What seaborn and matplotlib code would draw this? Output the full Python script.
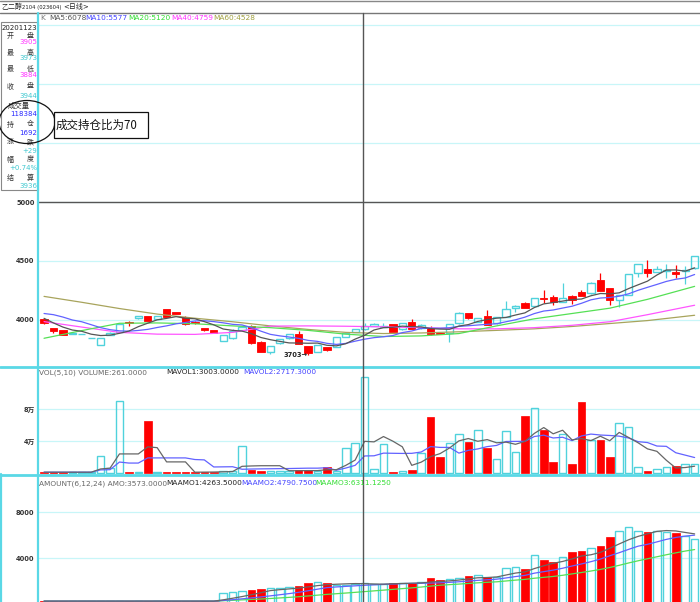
import numpy as np
import pandas as pd
import matplotlib
matplotlib.use("Agg")
import matplotlib.pyplot as plt
import seaborn as sns
from matplotlib.patches import Ellipse, Rectangle

# daily bars (one per trading day, left to right)
opens = [4006, 3932, 3915, 3880, 3880, 3848, 3790, 3873, 3900, 3982,
         4014, 4036, 4008, 4090, 4068, 4028, 3986, 3929, 3912, 3825,
         3845, 3915, 3952, 3816, 3727, 3802, 3845, 3878, 3780, 3727,
         3768, 3774, 3860, 3901, 3921, 3949, 3940, 3963, 3921, 3986,
         3929, 3929, 3887, 3887, 3972, 4056, 3986, 4034, 3972, 4028,
         4105, 4147, 4119, 4184, 4195, 4156, 4206, 4235, 4226, 4339,
         4268, 4169, 4212, 4396, 4430, 4410, 4418, 4410, 4416, 4438]
closes = [3972, 3905, 3875, 3888, 3881, 3849, 3847, 3892, 3966, 3976,
          4036, 3994, 4034, 4028, 4050, 3965, 3975, 3912, 3893, 3873,
          3907, 3944, 3802, 3732, 3780, 3836, 3878, 3797, 3723, 3788,
          3742, 3853, 3887, 3921, 3949, 3966, 3952, 3901, 3972, 3924,
          3958, 3880, 3880, 3963, 4062, 4020, 4014, 3958, 4023, 4093,
          4122, 4105, 4184, 4178, 4150, 4184, 4170, 4206, 4316, 4246,
          4170, 4212, 4387, 4475, 4402, 4430, 4424, 4390, 4424, 4542]
highs = [4010, 3935, 3918, 3890, 3882, 3850, 3850, 3895, 3970, 3992,
         4038, 4038, 4036, 4092, 4070, 4030, 3990, 3932, 3915, 3876,
         3925, 3948, 3960, 3820, 3783, 3840, 3882, 3905, 3783, 3792,
         3772, 3856, 3895, 3925, 3977, 3975, 3972, 3968, 3975, 4010,
         3962, 3950, 3890, 3966, 4066, 4060, 4018, 4085, 4026, 4161,
         4125, 4150, 4188, 4254, 4215, 4311, 4209, 4250, 4320, 4396,
         4271, 4215, 4390, 4478, 4508, 4460, 4478, 4465, 4460, 4545]
lows = [3968, 3890, 3870, 3878, 3878, 3846, 3788, 3870, 3898, 3950,
        4012, 3992, 4006, 4026, 4048, 3955, 3968, 3910, 3890, 3822,
        3842, 3912, 3798, 3728, 3710, 3798, 3842, 3795, 3703, 3725,
        3738, 3770, 3857, 3898, 3918, 3946, 3937, 3898, 3918, 3920,
        3926, 3876, 3877, 3816, 3969, 4010, 3983, 3955, 3969, 4025,
        4070, 4102, 4116, 4141, 4130, 4150, 4135, 4203, 4222, 4243,
        4127, 4110, 4209, 4367, 4367, 4405, 4360, 4355, 4302, 4435]
volume = [1000, 1000, 1000, 1000, 1000, 1000, 21250, 6000, 90000, 1000,
          1000, 65400, 1000, 1000, 1000, 1000, 1000, 1500, 1500, 2500,
          2500, 33750, 3750, 3000, 2500, 2500, 2500, 3750, 3750, 2500,
          8000, 2500, 30800, 37100, 119600, 4600, 35800, 1700, 2000, 3700,
          24600, 70400, 20400, 37100, 48300, 39200, 53300, 30800, 17100, 52500,
          25800, 71250, 80800, 53750, 13300, 48300, 10800, 89200, 40800, 40800,
          20000, 62900, 57500, 7900, 2500, 4600, 7100, 9200, 10800, 10800]
amount = [250] * 19 + [930, 1070, 1130, 1220, 1280, 1360, 1420, 1450, 1565, 1855,
                       1940, 1855, 1650, 1650, 1710, 1800, 1770, 1770, 1855, 1800,
                       1855, 1940, 2230, 2090, 2145, 2230, 2465, 2520, 2375, 2375,
                       3160, 3245, 3070, 4260, 3830, 3680, 4115, 4550, 4610, 4900,
                       5070, 5855, 6350, 6725, 6375, 6230, 6350, 6290, 6145, 5940,
                       5625]

# moving averages: first bars come from history left of the screen
ma5_head = [4014, 3975, 3940, 3915]
ma10_head = [4055, 4045, 4025, 4000, 3985, 3960, 3935, 3918, 3908]
ma_idx = [0, 4, 8, 12, 16, 20, 24, 28, 32, 36, 40, 44, 48, 52, 56, 60, 64, 69]
ma20 = [3845, 3910, 3972, 3975, 3968, 3950, 3935, 3912, 3880, 3860,
        3865, 3885, 3950, 4010, 4055, 4100, 4175, 4285]
ma40 = [3986, 3940, 3895, 3880, 3878, 3895, 3948, 3950, 3947, 3942,
        3935, 3925, 3925, 3935, 3955, 3985, 4045, 4125]
ma60 = [4200, 4150, 4097, 4050, 4015, 3985, 3950, 3920, 3895, 3885,
        3890, 3900, 3912, 3925, 3945, 3970, 3995, 4040]

price_ticks = [4000, 4500, 5000]
price_grid = [4000, 4500, 5000, 5500, 6000, 6500]
vol_ticks = [40000, 80000]
vol_tick_labels = ["4万", "8万"]
amt_ticks = [4000, 8000]

ma_legend = [("K", 40, "#777777"), ("MA5:6078", 49, "#555555"), ("MA10:5577", 85, "#4444ff"),
             ("MA20:5120", 128, "#33dd33"), ("MA40:4759", 171, "#ff33ff"), ("MA60:4528", 213, "#a0a040")]
vol_legend = [("VOL(5,10) VOLUME:261.0000", 39, "#666666"), ("MAVOL1:3003.0000", 166, "#222222"),
              ("MAVOL2:2717.3000", 243, "#4444ff")]
amt_legend = [("AMOUNT(6,12,24) AMO:3573.0000", 39, "#666666"), ("MAAMO1:4263.5000", 166, "#222222"),
              ("MAAMO2:4790.7500", 241, "#4444ff"), ("MAAMO3:6311.1250", 315, "#33dd33")]
info_date = "20201123"
info_labels = [("开", "盘"), ("最", "高"), ("最", "低"), ("收", "盘"), ("成交量",),
               ("持", "仓"), ("涨", "跌"), ("幅", "度"), ("结", "算")]
info_values = ["3905", "3973", "3884", "3944", "118384", "1692", "+29", "+0.74%", "3936"]
info_colors = ["#ff33ff", "#40c8d0", "#ff33ff", "#40c8d0", "#2a2aff", "#2a2aff",
               "#40c8d0", "#40c8d0", "#40c8d0"]

RED = "#ff0000"
CYAN = "#50d2dc"
GRID = "#c8f6f8"
BORDER = "#5ad8e6"
W, H = 700, 602
XLIM = (-0.64, 69.57)

sns.set_theme(style="white")
plt.rcParams["font.family"] = ["DejaVu Sans", "Noto Sans CJK SC"]

fig = plt.figure(figsize=(7, 6.02), dpi=100)


def axes_px(x0, y0, x1, y1):
    return fig.add_axes([x0 / W, 1 - y1 / H, (x1 - x0) / W, (y1 - y0) / H])


def setup(ax, ylim, ticks, labels, grid):
    ax.set_xlim(*XLIM)
    ax.set_ylim(*ylim)
    for s in ax.spines.values():
        s.set_visible(False)
    ax.set_xticks([])
    ax.set_yticks(ticks)
    ax.set_yticklabels(labels)
    ax.tick_params(axis="y", length=0, pad=2.5, labelsize=4.8, labelcolor="#333333")
    for lbl in ax.get_yticklabels():
        lbl.set_fontweight("bold")
    for g in grid:
        ax.axhline(g, color=GRID, lw=0.9, zorder=0)


o = np.array(opens, float)
c = np.array(closes, float)
n = len(c)
idx = np.arange(n)
up = c >= o
colors = np.where(up, CYAN, RED)

# ---- price panel ----
ax_k = axes_px(38, 13, 700, 366)
setup(ax_k, (3610, 6602), price_ticks, [str(t) for t in price_ticks], price_grid)
ax_k.axhline(5000, color="#555555", lw=1, zorder=1)

lo = np.minimum(o, c)
hi = np.maximum(o, c)
ax_k.vlines(idx, lows, lo, colors=colors, lw=0.9, zorder=3)
ax_k.vlines(idx, hi, highs, colors=colors, lw=0.9, zorder=3)
body = np.maximum(hi - lo, 1.5)
ax_k.bar(idx[up], body[up], bottom=lo[up], width=0.78, fill=False,
         edgecolor=CYAN, linewidth=1.0, zorder=3)
ax_k.bar(idx[~up], body[~up], bottom=lo[~up], width=0.78, color=RED,
         edgecolor=RED, linewidth=0.6, zorder=3)

ma5 = pd.Series(c).rolling(5).mean()
ma5.iloc[:len(ma5_head)] = ma5_head
ma10 = pd.Series(c).rolling(10).mean()
ma10.iloc[:len(ma10_head)] = ma10_head
for xs, ys, col in [(ma_idx, ma60, "#a8a45c"), (ma_idx, ma40, "#ff55ff"),
                    (ma_idx, ma20, "#55e055"), (idx, ma10, "#6262ff"), (idx, ma5, "#555555")]:
    sns.lineplot(x=xs, y=ys, ax=ax_k, color=col, lw=0.9, legend=False, zorder=4)
ax_k.set_ylabel("")
ax_k.text(27.95, 3703, "3703\u2192", ha="right", va="center", fontsize=4.8,
          fontweight="bold", color="#222222", zorder=5)

# ---- volume panel ----
ax_v = axes_px(38, 366, 700, 474)
setup(ax_v, (-1250, 133750), vol_ticks, vol_tick_labels, vol_ticks)
v = np.array(volume, float)
ax_v.bar(idx[up], v[up], width=0.8, fill=False, edgecolor=CYAN, linewidth=1.0, zorder=2)
ax_v.bar(idx[~up], v[~up], width=0.8, color=RED, edgecolor=RED, linewidth=0.5, zorder=2)
vs = pd.Series(v)
sns.lineplot(x=idx, y=vs.rolling(10, min_periods=1).mean(), ax=ax_v, color="#6262ff", lw=0.9, legend=False, zorder=3)
sns.lineplot(x=idx, y=vs.rolling(5, min_periods=1).mean(), ax=ax_v, color="#666666", lw=0.9, legend=False, zorder=3)
ax_v.set_ylabel("")

# ---- amount panel ----
ax_a = axes_px(38, 474, 700, 602)
setup(ax_a, (174, 11305), amt_ticks, [str(t) for t in amt_ticks], amt_ticks)
a = np.array(amount, float)
ax_a.bar(idx[up], a[up], width=0.8, fill=False, edgecolor=CYAN, linewidth=1.0, zorder=2)
ax_a.bar(idx[~up], a[~up], width=0.8, color=RED, edgecolor=RED, linewidth=0.5, zorder=2)
amt = pd.Series(a)
sns.lineplot(x=idx, y=amt.rolling(24, min_periods=1).mean(), ax=ax_a, color="#55e055", lw=0.9, legend=False, zorder=3)
sns.lineplot(x=idx, y=amt.rolling(12, min_periods=1).mean(), ax=ax_a, color="#6262ff", lw=0.9, legend=False, zorder=3)
sns.lineplot(x=idx, y=amt.rolling(6, min_periods=1).mean(), ax=ax_a, color="#666666", lw=0.9, legend=False, zorder=3)
ax_a.set_ylabel("")

# ---- overlay in pixel coordinates: frame, crosshair, text ----
ax_o = fig.add_axes([0, 0, 1, 1])
ax_o.set_xlim(0, W)
ax_o.set_ylim(H, 0)
ax_o.axis("off")

ax_o.plot([0, W], [0.5, 0.5], color="#888888", lw=1)
ax_o.plot([0, W], [12.5, 12.5], color="#777777", lw=1)
ax_o.plot([38, 38], [13, H], color=BORDER, lw=1.6)
ax_o.plot([0, W], [366.5, 366.5], color=BORDER, lw=2)
ax_o.plot([0, W], [474.5, 474.5], color=BORDER, lw=2)
ax_o.plot([0.8, 0.8], [474, H], color=BORDER, lw=1.6)
ax_o.plot([362.5, 362.5], [13, H], color="#555555", lw=1)

ax_o.text(1.5, 6.5, "乙二醇", fontsize=5, color="#222222", va="center")
ax_o.text(22, 7, "2104 (023604)", fontsize=3.8, color="#222222", va="center")
ax_o.text(63, 6.5, "<日线>", fontsize=5, color="#222222", va="center")

for txt, x, col in ma_legend:
    ax_o.text(x, 17.5, txt, fontsize=5.3, color=col, va="center")
for txt, x, col in vol_legend:
    ax_o.text(x, 372.5, txt, fontsize=5.3, color=col, va="center")
for txt, x, col in amt_legend:
    ax_o.text(x, 483.3, txt, fontsize=5.3, color=col, va="center")

# left info box
ax_o.add_patch(Rectangle((1, 22), 37, 168, fill=True, facecolor="white",
                         edgecolor="#888888", lw=0.8, zorder=1))
ax_o.text(19.5, 28.3, info_date, fontsize=5, color="#222222", ha="center", va="center")
label_y = [35.7, 52.3, 69, 86, 105, 124, 141.7, 159.3, 177.3]
value_y = [41.7, 58.3, 75, 95.7, 114, 132.7, 150.7, 168.3, 186]
for lab, ly, val, vy, col in zip(info_labels, label_y, info_values, value_y, info_colors):
    if len(lab) == 2:
        ax_o.text(10, ly, lab[0], fontsize=5, color="#333333", ha="center", va="center")
        ax_o.text(30.5, ly, lab[1], fontsize=5, color="#333333", ha="center", va="center")
    else:
        ax_o.text(19, ly, lab[0], fontsize=5.3, color="#333333", ha="center", va="center")
    ax_o.text(37, vy, val, fontsize=5, color=col, ha="right", va="center")

# hand-drawn oval and callout
ax_o.add_patch(Ellipse((27, 122), 56, 43, fill=False, edgecolor="#111111", lw=0.9, zorder=3))
ax_o.add_patch(Rectangle((53.5, 112), 94, 26, facecolor="white", edgecolor="#111111", lw=0.9, zorder=3))
ax_o.text(56, 125, "成交持仓比为70", fontsize=8.3, color="#111111", va="center", zorder=4,
          family=["Noto Sans CJK SC", "DejaVu Sans"])

fig.savefig("out.png", dpi=100)
